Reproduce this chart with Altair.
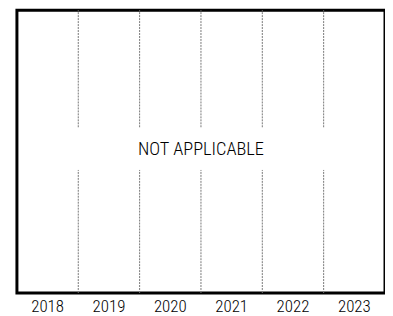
import altair as alt
import pandas as pd

years = ["2018", "2019", "2020", "2021", "2022", "2023"]
note = "NOT APPLICABLE"
note_year = "2021"
note_level = 0.509
gap_low = 0.435
gap_high = 0.586

FONT = "Roboto Condensed"

rule_rows = []
for y in years[1:]:
    rule_rows.append({"year": y, "y0": 0.0, "y1": gap_low})
    rule_rows.append({"year": y, "y0": gap_high, "y1": 1.0})
rules_df = pd.DataFrame(rule_rows)
note_df = pd.DataFrame({"year": [note_year], "level": [note_level], "label": [note]})

xscale = alt.Scale(type="band", domain=years, paddingInner=0, paddingOuter=0)
yscale = alt.Scale(domain=[0, 1], nice=False, zero=False)

xaxis = alt.Axis(
    title=None, ticks=False, domain=False, grid=False, labelAngle=0,
    labelFont=FONT, labelFontSize=17, labelFontWeight=300, labelColor="black",
    labelPadding=6,
)

rules = alt.Chart(rules_df).mark_rule(
    color="#777777", strokeWidth=1, strokeDash=[2, 1]
).encode(
    x=alt.X("year:N", scale=xscale, axis=xaxis, bandPosition=0),
    y=alt.Y("y0:Q", scale=yscale, axis=None),
    y2="y1:Q",
)

text = alt.Chart(note_df).mark_text(
    font=FONT, fontSize=18.5, fontWeight=300, color="black",
    baseline="middle", align="center"
).encode(
    x=alt.X("year:N", scale=xscale, axis=xaxis, bandPosition=0),
    y=alt.Y("level:Q", scale=yscale, axis=None),
    text="label:N",
)

chart = alt.layer(rules, text).properties(
    width=371, height=285,
    autosize=alt.AutoSizeParams(type="none"),
    padding={"left": 9, "top": 1, "right": 0, "bottom": 21},
).configure_view(stroke="black", strokeWidth=3)

chart.save("out.html", embed_options={"renderer": "svg", "actions": False})
